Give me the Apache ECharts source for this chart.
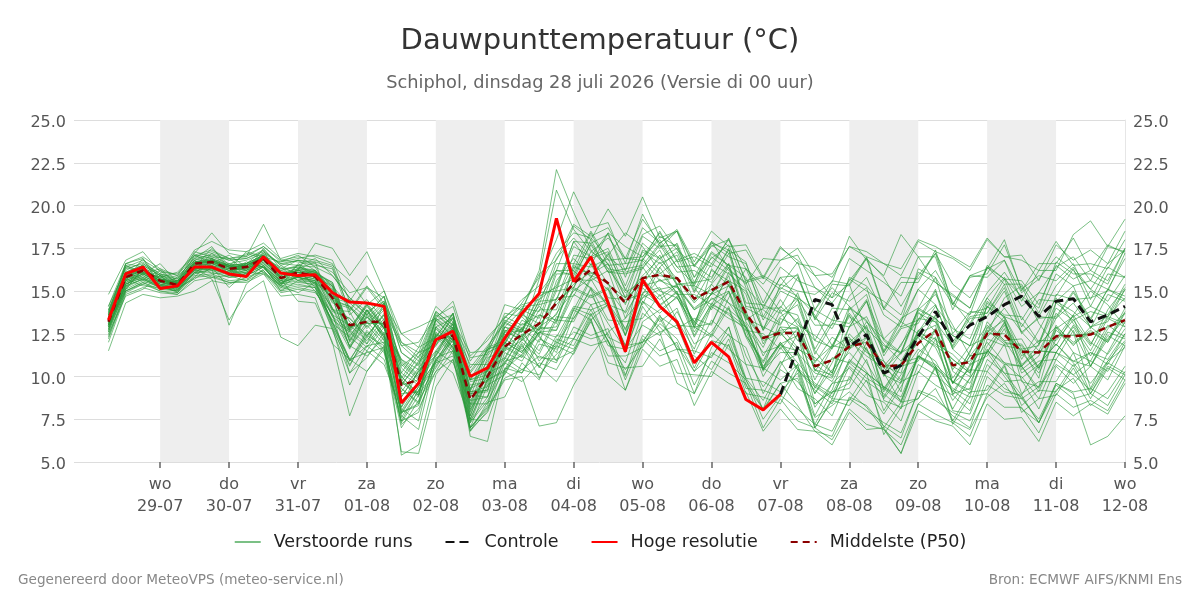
<!DOCTYPE html>
<html>
<head>
<meta charset="utf-8">
<title>Dauwpunttemperatuur</title>
<script src="https://cdn.jsdelivr.net/npm/echarts@6/dist/echarts.min.js"></script>
<style>
    html, body { margin: 0; padding: 0; background: #fff; }
    #chart { width: 1200px; height: 600px; }
</style>
</head>
<body>
<div id="chart"></div>
<script>
    // tijdstappen: elke 6 uur vanaf di 28-07 06:00
    const tijdStart = new Date(2026, 6, 28, 6).getTime();
    const stap = 6 * 3600 * 1000;
    const asMin = new Date(2026, 6, 27, 18).getTime();
    const asMax = new Date(2026, 7, 12, 0).getTime();

    const dagNamen = ['zo', 'ma', 'di', 'wo', 'do', 'vr', 'za'];
    // dagen met label (29-07 t/m 12-08)
    const dagTicks = [];
    for (let d = 29; d <= 31 + 12; d++) dagTicks.push(new Date(2026, 6, d).getTime());
    // grijze banden
    const bandDagen = [[2026, 6, 29], [2026, 6, 31], [2026, 7, 2], [2026, 7, 4], [2026, 7, 6], [2026, 7, 8], [2026, 7, 10]];

    const hogeResolutie = [13.3,16.0,16.4,15.15,15.3,16.4,16.4,16.0,15.85,17.0,16.05,15.9,15.95,14.9,14.35,14.3,14.1,8.45,9.6,12.15,
        12.65,10.0,10.5,12.25,13.7,14.85,19.25,15.55,17.0,14.3,11.45,15.65,14.1,13.2,10.8,12.0,11.15,8.65,8.05,8.95];

    const controle = [null,null,null,null,null,null,null,null,null,null,null,null,null,null,null,null,null,null,null,null,
        null,null,null,null,null,null,null,null,null,null,null,null,null,null,null,null,null,null,null,8.95,
        11.7,14.5,14.2,11.75,12.45,10.2,10.65,12.35,13.8,12.05,13.0,13.5,14.2,14.7,13.5,14.4,14.55,13.2,13.6,14.1];

    const middelste = [13.2,15.8,16.2,15.6,15.35,16.6,16.7,16.3,16.4,16.9,15.75,16.1,15.85,14.6,13.0,13.2,13.2,9.5,9.8,12.2,
        12.4,8.65,10.0,11.75,12.45,13.1,14.3,15.45,16.25,15.45,14.3,15.75,15.95,15.75,14.55,15.05,15.55,13.7,12.25,12.55,
        12.55,10.6,10.95,11.75,12.0,10.6,10.65,11.95,12.7,10.65,10.85,12.5,12.45,11.45,11.4,12.35,12.35,12.45,12.9,13.3];

    const verstoordeRuns = [
        [13.5,15.9,16.3,15.7,15.5,16.7,16.9,16.5,16.6,17.1,16.2,16.4,16.2, 15.3,14.1,12.8,13.9,10.8,9.9,12.9,13.4,9.8,11.2,12.6,13.5, 12.4,15.6,16.9,15.8,17.2,15.1,14.2,16.4,17.3,15.2,13.9,16.1,14.8,11.9,13.5, 14.2,11.5,10.2,12.9,14.4,12.1,11.3,13.8,12.6,9.9,11.4,14.1,13.2,11.0,12.7,14.6,13.1,11.8,13.9,15.2],
        [12.8,15.0,15.4,15.9,15.1,15.8,16.9,15.9,15.6,16.5,15.0,15.6,15.3, 13.2,11.0,12.4,11.8,7.9,8.4,11.0,12.1,7.4,8.8,10.9,11.2, 10.6,11.9,13.4,14.8,13.1,11.6,13.0,12.4,13.8,11.9,12.6,14.1,11.2,9.4,10.8, 11.3,8.2,9.6,10.5,9.3,7.8,9.4,11.2,10.4,8.1,9.9,11.6,10.2,8.9,10.7,11.9,10.8,9.6,10.9,12.1],
        [13.9,16.1,16.5,15.9,15.6,16.8,17.2,16.8,16.9,17.4,16.5,16.8,16.6, 16.1,14.9,15.2,14.6,11.8,12.0,13.5,14.1,10.9,12.3,13.4,14.5, 15.3,17.2,18.4,18.1,17.0,16.2,18.3,18.8,17.4,16.5,17.6,18.0,16.3,15.4,16.8, 17.1,15.2,14.3,15.6,16.9,15.8,14.1,15.9,17.2,15.4,14.6,16.3,16.8,14.9,15.7,17.0,16.2,15.1,16.6,17.4],
        [12.3,15.0,15.5,15.1,15.0,16.0,16.3,13.0,15.4,16.3,15.5,15.8,15.6, 13.5,11.6,13.9,12.1,8.2,10.4,11.2,13.1,7.7,10.6,12.0,11.4, 12.9,13.6,16.2,15.1,14.2,13.8,16.4,15.0,14.6,13.1,15.4,14.3,12.9,10.6,11.9, 12.4,9.8,11.7,12.3,10.8,9.1,10.6,12.7,13.4,10.3,9.6,11.8,13.1,11.4,10.2,12.2,13.6,12.0,11.3,12.8],
        [13.1,15.6,16.0,15.5,15.3,16.4,16.5,16.2,16.3,16.8,15.7,15.9,15.7, 14.8,13.2,12.3,13.7,9.8,8.9,12.5,12.0,9.3,10.9,12.9,13.9, 16.2,22.1,19.6,17.4,16.3,14.9,15.6,17.1,15.3,13.9,14.8,16.6,13.2,11.7,13.9, 13.6,10.9,11.8,13.7,12.4,10.2,11.9,13.3,14.2,11.6,10.7,12.8,14.0,12.6,11.5,13.4,14.3,12.9,13.5,14.6],
        [13.0,15.5,16.0,15.4,15.2,16.3,16.4,16.0,16.1,16.6,15.5,15.8,15.6, 13.1,10.9,11.8,12.0,7.2,8.1,10.3,11.0,7.0,8.2,9.9,10.4, 10.1,11.3,12.2,13.9,12.1,10.4,11.8,13.1,12.2,10.3,11.2,12.5,9.8,8.1,9.6, 9.9,7.6,8.3,9.1,8.2,6.9,5.5,8.4,9.3,7.4,6.9,8.8,9.6,8.1,7.3,9.2,9.9,8.3,9.1,10.6],
        [13.6,16.5,16.0,16.6,15.5,17.3,17.0,16.9,16.2,17.2,16.6,16.5,16.9, 15.9,14.6,13.8,14.4,11.4,10.7,13.3,13.6,10.5,11.8,13.1,14.3, 15.8,20.9,18.6,17.3,18.1,16.9,16.8,18.2,17.6,15.8,16.9,17.7,15.2,14.1,15.8, 15.9,13.4,12.8,14.7,15.8,13.6,12.9,15.1,16.2,14.4,13.1,14.9,16.1,14.6,13.5,15.3,16.4,15.1,14.4,15.9],
        [13.4,15.8,16.2,15.6,15.4,16.6,16.8,16.4,16.5,17.0,15.9,16.2,16.0, 14.0,12.3,13.8,12.9,9.1,10.5,11.8,13.1,8.2,10.4,11.5,12.1, 13.0,14.4,15.2,17.3,16.6,14.6,15.9,16.9,15.7,14.3,15.4,16.6,13.6,12.2,12.7, 12.9,10.8,12.3,11.6,13.2,11.9,10.9,12.6,14.1,12.8,12.2,14.6,15.8,14.1,14.9,16.4,17.0,15.6,17.6,17.3],
        [11.5,14.3,14.8,14.6,14.7,15.0,15.6,15.4,15.8,16.2,15.1,15.3,15.2, 12.7,10.2,11.1,12.6,5.4,6.0,10.1,11.5,6.9,7.9,10.2,11.8, 10.6,9.7,11.4,13.6,12.1,10.0,13.2,13.9,14.6,12.9,13.1,15.0,12.4,10.9,12.9, 12.8,10.4,9.7,11.6,12.3,9.3,10.8,12.5,11.7,9.6,11.5,13.0,12.1,10.6,11.9,12.9,11.4,10.9,12.8,13.7],
        [14.8,16.8,17.3,16.1,16.0,17.2,18.4,17.2,17.0,17.6,16.8,17.0,16.8, 16.5,15.6,14.2,15.0,12.0,11.1,13.8,13.0,10.3,11.7,13.3,12.8, 14.1,13.2,15.8,15.2,14.3,12.8,14.6,15.7,14.8,13.2,14.9,15.6,12.4,10.8,12.6, 11.3,9.0,10.4,11.4,10.3,8.7,10.1,11.6,10.9,9.1,10.6,12.0,10.8,9.9,10.7,11.9,10.9,10.6,12.4,11.8],
        [13.7,16.6,16.9,15.3,15.8,16.9,17.6,16.3,17.3,17.0,16.7,17.1,16.4, 15.9,14.6,13.6,14.7,11.4,10.6,13.6,12.8,10.2,11.5,13.2,14.1, 14.2,16.9,18.1,17.0,18.4,17.6,17.0,18.0,16.4,15.4,17.9,16.3,15.4,16.9,16.8, 17.5,15.9,14.6,15.4,12.6,10.5,11.4,12.3,10.6,8.6,9.9,11.4,10.0,8.7,9.4,10.7,10.1,9.2,10.9,11.7],
        [12.9,15.4,15.9,15.4,15.2,16.3,16.5,16.1,16.2,16.7,15.6,15.9,15.7, 13.6,11.8,13.5,12.3,8.0,9.6,11.2,12.6,7.5,9.9,10.8,12.4, 10.5,12.4,12.2,14.2,12.0,10.8,13.7,12.9,11.8,10.3,12.1,11.8,9.9,8.6,10.4, 9.7,8.4,9.1,9.6,12.0,10.6,10.2,13.4,13.2,11.8,13.7,14.0,15.7,13.3,14.9,14.7,16.3,14.1,16.0,15.8],
        [13.3,15.2,16.6,15.9,14.9,16.1,16.6,17.1,16.4,16.4,15.3,16.6,15.9, 15.2,12.1,13.9,12.4,10.0,8.9,12.9,11.7,9.1,9.2,12.5,11.6, 13.6,13.1,16.5,15.9,15.5,12.4,16.8,15.6,15.8,12.8,16.3,15.3,13.9,10.4,13.4, 12.9,10.4,10.1,14.0,13.3,10.9,9.1,13.7,13.2,10.6,10.0,14.3,13.5,11.6,9.9,14.4,13.8,12.9,13.2,15.1],
        [12.6,15.1,15.6,15.2,15.0,16.1,16.2,15.8,15.9,16.4,15.3,15.5,15.4, 12.9,10.6,12.6,11.5,7.3,8.9,10.5,12.2,7.0,8.3,11.1,10.4, 11.2,10.8,12.9,12.4,12.8,10.1,12.4,11.5,12.0,9.5,11.4,10.8,9.8,7.5,8.9, 8.1,7.2,6.8,8.7,8.0,7.3,6.7,9.1,8.6,7.9,7.4,9.5,8.9,8.7,7.5,9.6,9.1,9.3,8.7,10.3],
        [13.8,16.0,16.4,15.8,15.6,16.7,16.9,16.5,16.6,17.1,16.0,16.2,17.8, 17.5,15.9,17.3,15.0,12.5,12.9,13.4,14.4,11.2,12.1,13.5,14.2, 14.5,16.2,15.9,17.7,16.1,16.3,16.5,17.8,16.4,16.5,15.8,17.4,14.3,14.2,13.7, 14.6,11.6,13.3,13.1,14.5,11.4,12.9,13.3,15.1,12.0,13.5,13.7,15.2,12.6,13.4,13.5,15.0,13.4,15.1,14.7],
        [13.2,15.6,16.1,15.5,15.3,16.5,16.6,16.2,16.3,16.8,15.7,14.4,14.3, 12.0,7.7,10.3,11.6,7.9,8.3,11.1,11.5,7.3,8.6,10.4,11.3, 12.6,12.3,14.1,13.9,14.3,12.4,14.8,14.2,14.9,12.6,14.2,13.7,12.9,10.5,12.0, 10.8,9.6,9.0,10.9,10.2,9.4,8.8,11.2,10.7,9.7,9.2,11.5,10.8,10.6,9.3,11.4,10.9,11.4,11.0,12.5],
        [12.7,15.4,16.0,15.6,15.5,16.6,16.8,16.4,16.2,17.5,16.3,16.4,16.1, 14.3,14.0,13.1,14.0,9.5,10.8,11.9,13.2,8.3,10.7,11.6,13.1, 12.7,15.0,15.2,17.0,15.4,14.6,15.4,16.7,15.4,15.3,14.8,16.4,13.4,12.9,12.4, 13.4,10.3,11.8,11.6,13.0,10.0,11.4,11.9,13.6,10.4,11.8,12.3,13.5,11.2,12.1,12.1,13.3,11.9,13.5,13.1],
        [13.4,16.2,16.7,16.0,15.7,17.0,17.3,16.9,17.0,18.9,16.8,16.7,16.5, 16.3,13.6,14.5,13.3,11.0,10.4,13.4,12.7,9.8,10.3,12.9,12.6, 14.4,14.5,17.1,16.9,17.3,15.0,17.3,16.6,17.1,14.9,16.6,16.0,15.1,12.7,14.1, 13.2,12.1,11.7,13.5,12.8,11.8,11.4,13.9,13.4,12.4,11.8,14.1,13.5,13.1,11.9,14.0,13.3,13.8,13.5,15.1],
        [14.1,16.3,16.6,16.0,15.8,16.9,17.1,16.8,16.9,17.3,16.6,16.8,16.7, 16.4,13.9,15.3,14.1,12.0,11.4,13.8,13.0,11.1,11.3,13.7,13.5, 14.9,15.0,17.9,17.8,18.3,16.2,18.7,17.8,18.5,16.5,17.9,17.2,17.4,15.7,17.5, 16.8,15.9,16.0,17.6,17.3,16.6,16.3,18.0,17.6,17.0,16.4,18.1,17.0,16.8,16.2,17.9,16.5,16.6,16.3,18.0],
        [12.5,14.7,15.1,15.9,15.2,15.7,16.4,15.2,16.1,16.0,15.3,14.9,15.5, 13.0,10.9,12.7,11.6,7.4,9.2,10.6,12.4,6.5,6.2,10.5,10.2, 12.2,11.7,13.9,13.3,14.2,11.4,14.4,13.2,14.0,11.3,13.3,12.4,11.7,9.0,10.9, 9.3,8.7,7.7,10.0,8.9,8.5,7.4,10.3,9.5,8.9,8.0,10.7,9.7,9.8,8.1,10.6,9.6,10.6,9.8,11.8],
        [13.0,16.6,16.4,15.1,15.3,17.1,16.9,16.0,16.6,17.4,15.4,16.3,16.7, 13.9,13.8,11.9,14.3,10.6,11.4,11.8,13.7,9.8,11.6,11.9,13.8, 12.3,11.4,13.9,15.8,17.1,18.4,17.6,16.1,14.9,13.2,12.4,14.6,16.3,15.1,13.8, 12.1,13.9,15.2,14.1,12.4,10.6,11.8,13.9,14.8,13.0,11.2,12.5,14.6,15.3,13.1,11.8,13.6,15.0,14.2,12.9],
        [13.1,15.5,15.9,15.3,15.2,16.3,16.3,16.1,16.1,16.7,15.6,15.8,15.5, 14.6,11.7,13.0,11.9,9.3,8.4,12.3,11.3,8.9,8.8,11.7,11.1, 12.6,12.7,14.8,14.2,14.5,11.5,14.1,12.6,13.0,10.5,12.5,11.6,10.7,8.0,9.6, 8.3,6.8,6.5,8.8,8.3,7.1,6.4,9.2,8.8,7.7,7.0,10.0,9.1,8.9,7.3,9.6,9.0,6.0,6.5,7.7],
        [13.6,15.9,16.2,15.6,15.4,16.6,16.7,16.4,16.5,17.0,15.8,16.1,16.0, 15.3,12.7,14.1,12.8,11.0,10.1,13.4,12.4,10.1,10.3,13.2,12.6, 14.9,16.2,18.8,18.0,19.8,18.2,20.5,18.1,18.5,15.8,17.7,17.0,16.6,14.3,16.4, 15.6,15.2,14.6,16.9,16.2,15.5,14.7,17.0,15.5,14.8,14.0,16.4,15.4,15.4,13.7,16.0,15.3,15.6,15.1,16.9],
        [13.2,16.1,15.7,16.2,15.4,16.2,17.2,16.4,15.8,16.9,16.4,15.6,15.9, 13.8,13.4,12.4,13.6,8.8,10.3,11.4,12.9,7.9,10.4,11.0,12.8, 12.0,14.6,14.7,16.6,14.6,14.5,14.8,16.4,14.8,14.8,14.2,15.9,12.7,12.5,11.6, 12.8,9.3,11.1,10.8,12.3,9.2,10.8,11.1,12.8,9.6,11.2,11.4,13.0,10.6,11.5,11.4,12.9,11.2,13.0,12.3],
        [13.3,15.6,16.0,15.5,15.3,16.4,16.6,16.3,16.3,16.8,15.8,16.1,15.8, 15.1,12.6,13.9,12.8,10.2,9.5,12.9,12.1,9.3,9.8,12.7,12.6, 15.7,18.0,20.8,18.7,19.0,16.6,19.5,17.6,17.7,15.0,17.0,16.2,15.5,12.8,14.5, 13.0,12.4,11.6,14.1,13.2,12.2,11.4,14.0,13.4,12.4,11.8,14.4,13.6,13.5,12.0,14.3,13.5,14.1,13.6,15.4],
        [12.4,15.0,15.5,15.0,14.9,15.9,16.0,15.6,15.7,16.2,15.0,15.2,15.0, 13.2,11.0,11.4,11.7,7.4,7.9,10.8,11.2,7.0,8.1,9.8,10.0, 7.1,7.3,9.5,11.2,12.6,13.4,14.6,15.1,15.3,14.0,14.8,15.3,13.5,12.1,12.5, 11.6,11.1,10.2,12.5,11.4,10.9,9.8,12.7,11.9,11.3,10.3,13.2,12.1,12.2,10.5,13.0,11.8,12.9,12.1,14.0],
        [13.9,16.4,16.8,16.2,15.9,17.1,17.4,16.9,17.1,17.6,16.7,16.9,17.1, 16.8,14.4,15.9,14.2,12.5,11.7,14.1,13.2,11.4,11.5,14.2,13.9, 16.0,16.8,18.9,18.2,18.7,16.9,19.2,17.8,18.6,16.7,18.5,17.6,17.7,15.8,17.6, 16.6,16.4,15.8,17.6,17.0,16.6,15.9,17.9,17.3,16.9,16.2,18.0,17.0,17.1,15.6,17.7,16.8,17.4,16.6,18.5],
        [13.0,15.4,15.8,15.2,15.1,16.1,15.7,13.3,14.9,15.6,12.3,11.8,13.0, 12.8,9.5,11.5,10.7,8.1,7.4,11.5,10.8,8.4,8.4,11.4,10.9, 12.6,12.0,14.0,13.6,14.2,11.8,14.4,13.7,14.7,12.3,14.1,13.4,12.9,10.3,11.9, 10.5,9.5,8.8,10.8,9.9,9.3,8.5,11.1,10.5,9.7,9.0,11.5,10.7,10.6,9.1,11.4,10.6,11.4,10.7,12.5],
        [13.3,15.6,16.9,15.7,15.6,16.3,16.4,16.6,16.2,16.8,16.0,16.1,15.4, 14.0,11.8,11.2,12.3,9.0,9.1,12.4,12.2,8.1,9.6,12.3,12.8, 10.9,12.0,11.6,13.4,10.1,9.2,12.0,12.6,9.6,9.0,11.7,12.9,9.5,8.1,10.6, 12.5,8.4,9.2,12.0,12.9,8.6,8.2,11.4,12.3,9.0,9.3,12.6,13.3,9.7,9.4,12.8,13.5,10.6,12.2,13.4],
        [12.9,15.3,15.7,15.2,15.0,16.1,16.1,15.8,15.9,16.4,15.2,15.4,15.2, 12.8,10.7,12.3,11.4,7.0,8.6,10.3,11.9,6.8,8.0,10.8,10.2, 11.9,11.6,12.6,12.2,12.5,9.8,12.2,11.2,11.6,9.0,10.9,10.2,9.6,7.0,8.7, 7.4,7.0,6.3,8.1,7.2,6.9,6.0,8.4,7.8,7.3,6.5,9.0,8.2,8.2,6.7,9.0,8.2,8.6,8.0,9.8],
        [13.5,15.8,16.2,15.6,15.3,16.6,16.7,16.3,16.5,16.9,15.8,16.0,15.8, 15.3,12.4,13.7,12.5,10.0,9.0,12.8,11.7,9.1,9.4,12.6,12.2, 14.5,15.3,17.9,16.5,18.4,15.8,18.2,17.5,18.5,16.4,17.8,17.4,16.7,13.5,15.2, 14.7,13.6,11.8,13.6,11.5,10.2,8.5,11.2,10.6,9.3,8.8,12.2,11.8,11.6,11.8,14.8,14.5,14.6,15.0,17.2],
        [13.2,15.7,16.1,15.6,15.4,16.5,16.7,16.3,16.4,16.9,15.8,16.1,15.9, 14.5,12.9,13.1,13.1,9.5,9.8,12.2,12.4,8.6,10.0,11.8,12.4, 13.0,14.2,15.4,16.1,15.4,14.3,15.8,15.9,15.7,14.5,15.1,15.6,13.7,12.3,12.6, 12.6,10.6,11.0,11.8,12.0,10.6,10.7,12.0,12.7,10.7,10.9,12.5,12.5,11.5,11.4,12.4,12.4,12.5,12.9,13.3],
        [12.7,15.7,15.3,15.2,15.6,16.3,15.8,15.9,16.6,16.1,15.4,15.9,15.0, 13.3,12.6,11.7,13.1,7.9,9.4,10.9,12.5,7.5,9.8,10.3,12.0, 11.1,11.0,11.5,13.2,11.2,11.2,11.7,13.5,12.8,13.4,13.0,15.4,13.3,14.0,14.0, 15.8,13.4,15.4,15.3,16.9,13.9,15.5,15.5,17.4,14.2,15.8,16.0,17.7,15.1,15.9,15.6,16.6,14.5,16.4,15.8],
        [13.4,15.8,16.3,15.7,15.5,16.6,16.8,16.5,16.5,17.0,16.0,16.2,16.1, 15.5,12.8,14.3,13.0,10.7,9.8,13.3,12.3,9.7,9.9,12.9,12.3, 14.2,14.5,16.6,16.4,16.9,14.6,17.4,16.9,17.5,15.3,17.2,16.5,15.8,13.3,15.0, 14.5,13.0,13.0,15.8,15.3,14.0,13.2,16.3,15.8,14.2,13.6,16.4,15.7,14.7,14.0,16.7,16.0,16.0,15.4,17.5],
        [13.7,16.1,16.5,15.9,15.7,16.8,17.0,16.6,16.8,17.2,16.2,16.5,16.4, 14.7,14.5,13.6,14.7,10.2,11.7,12.3,13.7,9.2,11.7,12.1,13.9, 13.4,16.2,16.2,18.4,16.5,16.6,16.8,18.5,16.7,17.0,16.4,18.1,15.5,15.8,15.1, 16.0,13.3,14.9,14.4,15.2,12.2,13.2,12.5,13.0,9.6,10.4,10.3,11.9,9.0,9.7,9.7,11.4,9.0,10.6,10.1],
        [12.6,15.2,15.7,15.3,15.1,16.2,16.3,16.0,16.0,16.5,15.4,15.6,15.5, 13.1,12.3,11.5,12.9,7.6,9.2,10.8,12.3,7.0,9.5,10.1,11.9, 9.9,11.8,11.3,13.3,10.8,10.5,10.6,12.2,10.2,10.1,10.0,11.9,9.0,8.8,8.4, 10.4,7.2,9.1,9.3,11.0,8.0,9.7,10.2,12.2,8.9,10.7,11.2,12.8,10.2,10.9,11.0,12.7,10.6,12.6,12.2],
        [13.3,16.4,16.0,16.3,15.4,16.4,17.5,16.5,16.0,17.3,16.5,15.9,16.1, 14.5,14.1,12.9,14.2,9.5,10.9,12.1,13.4,8.4,11.1,11.5,13.3, 12.7,15.2,15.7,17.8,16.3,16.1,16.4,17.4,15.4,15.5,15.7,17.5,14.0,13.5,13.0, 14.9,12.1,14.0,13.9,14.8,11.5,13.4,14.0,15.8,12.5,13.8,13.7,15.4,12.9,14.5,14.4,15.3,12.8,14.8,14.4],
        [12.2,14.9,15.4,15.0,14.8,15.8,15.9,15.5,15.6,16.1,14.9,15.1,14.9, 13.7,10.2,11.8,11.0,7.7,6.9,11.0,10.2,7.5,7.4,10.3,9.7, 10.8,10.4,12.2,11.8,12.1,9.2,11.6,10.6,11.0,8.3,10.3,9.6,9.1,6.8,8.1, 6.9,6.8,6.0,7.9,6.9,7.0,5.5,8.0,7.4,7.1,6.0,8.4,7.5,7.6,6.2,8.5,7.7,8.4,7.8,9.6],
        [13.6,15.9,16.3,15.7,15.4,16.7,16.8,16.4,16.5,17.1,16.0,16.3,16.1, 15.4,12.7,14.2,12.8,10.5,9.6,13.1,12.1,9.5,9.7,12.7,12.1, 13.9,13.9,16.4,16.0,16.6,14.2,16.9,16.0,16.8,14.4,16.2,15.6,15.0,12.7,15.4, 15.0,14.8,15.5,18.2,16.8,15.9,18.3,17.0,17.0,13.9,15.9,16.3,18.0,15.0,16.6,16.6,18.1,16.2,17.7,17.2],
        [13.0,15.1,16.3,15.3,15.6,16.8,16.0,16.1,16.7,16.4,15.6,16.3,15.2, 13.6,13.0,12.1,13.4,8.2,9.7,11.3,12.8,7.7,10.2,10.7,12.5, 11.5,13.5,13.4,15.1,12.3,11.8,12.0,13.6,11.6,11.2,10.4,12.2,9.3,9.2,8.8, 10.7,7.7,9.6,9.8,11.7,8.8,10.6,10.9,12.7,9.6,11.2,11.4,13.2,10.7,11.5,11.4,13.0,11.5,13.4,12.9],
        [14.1,16.6,17.0,16.3,15.9,17.4,17.9,17.4,17.3,17.8,16.9,17.2,17.0, 16.6,13.8,15.2,13.9,11.8,10.9,13.7,12.8,10.7,10.7,13.5,13.0, 13.6,13.3,15.7,15.6,16.2,13.4,15.7,14.7,15.4,13.0,14.9,14.3,13.6,11.2,12.9, 11.7,10.7,10.0,12.1,11.2,10.5,9.7,12.4,11.8,11.0,10.2,12.7,11.9,11.9,10.5,12.7,11.9,12.6,12.0,13.8],
        [12.0,14.8,15.2,14.9,14.8,15.6,15.8,15.5,15.5,16.0,14.7,14.8,14.6, 11.9,11.0,10.3,11.8,5.6,5.5,9.4,11.0,6.8,8.5,8.8,10.8, 9.8,12.2,11.8,13.7,11.8,11.6,12.0,13.4,11.6,11.5,11.1,12.9,9.9,9.7,9.1, 10.2,7.0,8.6,8.3,9.8,7.0,8.5,8.7,10.5,7.4,9.1,9.2,10.7,8.3,9.2,9.1,10.7,9.0,10.8,10.2],
        [13.5,15.8,16.2,15.6,15.5,16.6,16.7,16.4,16.5,17.0,15.9,16.2,16.0, 15.5,12.8,14.2,12.9,10.9,10.0,13.3,12.3,9.8,10.1,13.1,12.7, 14.7,15.2,17.6,17.0,17.5,15.3,17.8,16.9,17.8,15.5,17.3,16.5,16.3,14.0,15.8, 14.6,13.9,13.3,15.7,15.0,14.4,13.6,16.1,15.5,14.7,14.0,16.5,15.7,15.6,14.2,16.5,15.7,16.2,15.6,17.5],
        [13.1,15.9,15.6,16.0,15.3,16.0,16.9,16.2,15.9,17.1,15.7,16.5,15.8, 13.9,13.4,12.4,13.6,8.8,10.3,11.5,12.9,8.0,10.5,11.1,12.9, 12.5,13.7,15.0,15.8,15.1,13.7,15.3,15.6,15.2,13.9,14.5,15.0,12.9,11.4,11.8, 11.5,9.0,10.8,12.9,13.5,11.4,13.2,15.1,14.2,11.6,13.0,14.6,13.4,10.4,11.2,13.7,12.6,9.3,11.4,13.2],
        [13.2,15.7,16.1,15.5,15.4,16.5,16.6,16.2,16.4,16.9,15.8,16.1,15.8, 14.9,12.0,13.5,12.4,9.7,8.8,12.5,11.6,9.0,9.2,12.2,11.5, 12.4,10.9,13.6,15.7,14.0,11.8,14.9,15.2,13.3,11.6,14.1,14.9,12.3,10.4,11.4, 11.4,10.2,9.9,12.2,11.6,10.1,9.6,12.5,12.2,11.0,10.2,12.9,12.0,11.8,10.4,12.9,12.0,12.7,12.0,13.7],
        [12.8,15.3,15.7,15.2,15.1,16.2,16.3,15.9,16.0,16.5,15.4,15.7,15.5, 13.5,12.7,11.9,13.2,7.8,9.4,10.9,12.5,7.3,9.8,10.4,12.2, 11.3,13.3,13.2,15.2,13.3,13.2,13.4,14.8,13.0,12.9,12.3,14.0,10.7,10.5,9.8, 10.7,7.0,8.7,8.6,10.2,6.6,8.2,8.7,10.6,7.2,8.8,9.0,10.6,7.9,8.7,8.9,10.5,8.7,10.5,9.8],
        [13.8,16.5,16.1,15.8,16.1,17.1,16.6,16.5,17.2,16.9,16.3,16.8,16.2, 14.6,14.3,13.4,14.4,9.9,11.4,12.3,13.7,9.1,11.6,12.0,14.0, 13.8,16.6,16.6,18.5,16.8,16.9,17.0,18.4,16.8,17.2,16.6,18.0,15.6,15.9,15.3, 16.7,13.9,15.6,15.4,17.0,14.0,15.8,15.7,17.2,14.2,15.9,15.8,16.8,14.4,16.2,16.2,18.3,19.1,17.6,19.2],
        [12.9,15.4,15.8,15.3,15.2,16.3,16.4,16.0,16.2,16.6,15.5,15.8,15.6, 14.6,11.7,13.2,12.1,9.3,8.5,12.4,11.5,8.6,8.8,11.8,11.2, 12.8,12.9,15.2,14.7,15.2,12.7,15.4,14.5,15.3,12.9,14.6,13.9,13.1,10.4,12.0, 10.4,9.4,8.7,11.0,10.2,9.4,8.6,11.2,10.5,8.0,7.8,10.3,9.3,8.8,7.3,9.5,8.7,9.0,8.3,10.1],
        [13.6,16.0,16.3,15.7,15.5,16.7,16.8,16.5,16.6,17.1,16.1,16.3,16.2, 14.4,14.1,13.2,14.3,9.7,11.2,12.0,13.5,8.8,11.4,11.9,13.6, 13.1,16.0,16.0,18.0,16.1,16.0,16.3,17.7,16.1,16.2,15.5,17.2,14.1,13.9,13.1, 14.5,11.3,13.1,12.9,14.4,11.2,12.8,13.1,15.0,11.7,13.4,13.5,15.0,12.5,13.5,13.4,14.9,13.3,15.1,14.5],
        [13.0,15.1,16.3,15.4,14.9,16.6,16.2,16.1,16.6,16.4,15.2,15.9,16.2, 15.0,12.1,13.6,12.3,9.7,8.9,12.6,11.7,9.0,9.1,12.0,11.4, 12.9,12.7,15.1,14.6,15.1,12.4,15.2,14.1,15.0,12.4,14.3,13.6,12.7,10.0,11.7, 10.4,9.2,8.4,10.6,9.7,9.0,8.1,10.7,10.1,9.2,8.4,11.0,10.2,10.0,8.7,11.0,10.1,10.9,10.3,12.0]
    ];

    function punten(waarden) {
        return waarden.map(function (v, i) { return [tijdStart + i * stap, v]; });
    }

    const chart = echarts.init(document.getElementById('chart'));

    const series = [];
    series.push({
        name: 'banden',
        type: 'line',
        data: [],
        z: 0,
        silent: true,
        markArea: {
            silent: true,
            itemStyle: { color: '#eeeeee' },
            data: bandDagen.map(function (d) {
                const t0 = new Date(d[0], d[1], d[2]).getTime();
                return [{ xAxis: t0 }, { xAxis: t0 + 24 * 3600 * 1000 }];
            })
        }
    });
    verstoordeRuns.forEach(function (run) {
        series.push({
            name: 'Verstoorde runs',
            type: 'line',
            data: punten(run),
            symbol: 'none',
            z: 2,
            lineStyle: { color: '#2a9a3a', width: 1, opacity: 0.62 },
            itemStyle: { color: '#2a9a3a' }
        });
    });
    series.push({
        name: 'Middelste (P50)',
        type: 'line',
        data: punten(middelste),
        symbol: 'none',
        z: 3,
        lineStyle: { color: '#8b0000', width: 2.5, type: [7, 5] },
        itemStyle: { color: '#8b0000' }
    });
    series.push({
        name: 'Controle',
        type: 'line',
        data: punten(controle),
        symbol: 'none',
        z: 4,
        lineStyle: { color: '#111111', width: 3, type: [9, 5] },
        itemStyle: { color: '#111111' }
    });
    series.push({
        name: 'Hoge resolutie',
        type: 'line',
        data: punten(hogeResolutie),
        symbol: 'none',
        z: 5,
        lineStyle: { color: '#ff0000', width: 3 },
        itemStyle: { color: '#ff0000' }
    });

    const yAs = function (pos) {
        return {
            type: 'value',
            position: pos,
            min: 5,
            max: 25,
            interval: 2.5,
            axisLine: { show: pos === 'right', lineStyle: { color: '#e6e6e6' } },
            axisTick: { show: false },
            axisLabel: {
                margin: 8,
                formatter: function (v) { return '{v|' + v.toFixed(1) + '}'; },
                rich: {
                    v: { color: '#555', fontSize: 16, fontFamily: 'DejaVu Sans', padding: [6, 0, 0, 0] }
                }
            },
            splitLine: { show: pos === 'left', lineStyle: { color: '#dddddd', width: 1 } }
        };
    };

    const option = {
        animation: false,
        textStyle: { fontFamily: 'DejaVu Sans' },
        grid: { left: 74, right: 75, top: 120, bottom: 138 },
        graphic: [
            { type: 'text', left: 'center', top: 27, style: { text: 'Dauwpunttemperatuur (°C)', fill: '#333', font: '29px DejaVu Sans' } },
            { type: 'text', left: 'center', top: 74, style: { text: 'Schiphol, dinsdag 28 juli 2026 (Versie di 00 uur)', fill: '#666', font: '17.8px DejaVu Sans' } },
            { type: 'text', left: 18, top: 573, style: { text: 'Gegenereerd door MeteoVPS (meteo-service.nl)', fill: '#888', font: '13.6px DejaVu Sans' } },
            { type: 'text', right: 18, top: 573, style: { text: 'Bron: ECMWF AIFS/KNMI Ens', fill: '#888', font: '13.6px DejaVu Sans' } }
        ],
        legend: {
            top: 528,
            left: 'center',
            itemWidth: 26,
            itemHeight: 14,
            itemGap: 32,
            itemStyle: { opacity: 0 },
            textStyle: { color: '#222', fontSize: 17.5, padding: [0, 0, 0, 8] },
            data: ['Verstoorde runs', 'Controle', 'Hoge resolutie', 'Middelste (P50)']
        },
        xAxis: {
            type: 'value',
            min: asMin,
            max: asMax,
            axisLine: { show: false },
            axisTick: {
                show: true,
                length: 6,
                lineStyle: { color: '#666', width: 1.5 },
                customValues: dagTicks
            },
            axisLabel: {
                color: '#555',
                fontSize: 16,
                lineHeight: 22,
                margin: 12,
                customValues: dagTicks,
                formatter: function (v) {
                    const d = new Date(v);
                    const dd = String(d.getDate()).padStart(2, '0');
                    const mm = String(d.getMonth() + 1).padStart(2, '0');
                    return dagNamen[d.getDay()] + '\n' + dd + '-' + mm;
                }
            },
            splitLine: { show: false }
        },
        yAxis: [yAs('left'), yAs('right')],
        series: series
    };

    chart.setOption(option);
</script>
</body>
</html>
